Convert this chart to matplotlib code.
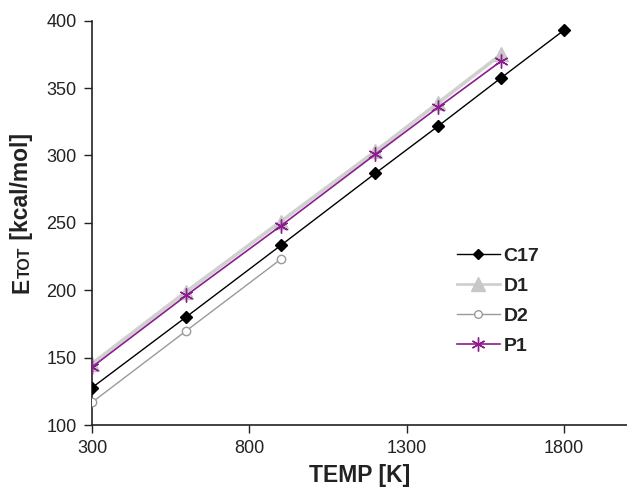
import matplotlib
matplotlib.use("Agg")
import matplotlib.pyplot as plt

plt.rcParams['font.family'] = ['Liberation Sans', 'DejaVu Sans']

temp_c17 = [300, 600, 900, 1200, 1400, 1600, 1800]
e_c17 = [127.7, 180.3, 233.3, 286.7, 321.8, 357.6, 393.0]
temp_d1 = [300, 600, 900, 1200, 1400, 1600]
e_d1 = [145.5, 199.0, 251.0, 303.0, 339.0, 375.0]
temp_d2 = [300, 600, 900]
e_d2 = [116.8, 170.0, 223.0]
temp_p1 = [300, 600, 900, 1200, 1400, 1600]
e_p1 = [143.0, 196.2, 247.8, 300.8, 335.7, 370.0]

xticks = [300, 800, 1300, 1800]
yticks = [100, 150, 200, 250, 300, 350, 400]

fig = plt.figure(figsize=(6.27, 4.88), dpi=100)
ax = fig.add_axes([92/627, 63/488, 535/627, 404.3/488])

ax.plot(temp_c17, e_c17, color='black', lw=1.0, marker='D', ms=6,
        mfc='black', mec='black', label='C17', zorder=4)
ax.plot(temp_d1, e_d1, color='#d0d0d0', lw=2.6, marker='^', ms=10,
        mfc='#c8c8c8', mec='#c8c8c8', label='D1', zorder=2)
ax.plot(temp_d2, e_d2, color='#9a9a9a', lw=1.0, marker='o', ms=6,
        mfc='white', mec='#9a9a9a', label='D2', zorder=3)
ax.plot(temp_p1, e_p1, color='#8b1c8b', lw=1.2, marker=(6, 2, 0), ms=10,
        mec='#8b1c8b', mew=1.0, label='P1', zorder=5)

ax.set_xlim(300, 2000)
ax.set_ylim(100, 400)
ax.set_xticks(xticks)
ax.set_yticks(yticks)
ax.tick_params(axis='both', direction='out', length=6, width=1.0,
               labelsize=13, colors='#222222', pad=5)
for s in ['top', 'right']:
    ax.spines[s].set_visible(False)
for s in ['left', 'bottom']:
    ax.spines[s].set_linewidth(1.2)
    ax.spines[s].set_color('#222222')
ax.spines['left'].set_bounds(100, 400)

ax.set_xlabel('TEMP [K]', fontsize=16.5, fontweight='bold', color='#222222', labelpad=5)

# y label: "E" + small "TOT" + " [kcal/mol]"
t1 = fig.text(33/627, 1 - 293/488, 'E', rotation=90, fontsize=16.5, fontweight='bold',
              color='#222222', ha='right', va='bottom')
t2 = ax.annotate('TOT', xy=(1, 1), xycoords=t1, rotation=90, fontsize=11.5,
                 fontweight='bold', color='#222222', ha='right', va='bottom',
                 annotation_clip=False)
t3 = ax.annotate(' [kcal/mol]', xy=(1, 1), xycoords=t2, rotation=90, fontsize=16.5,
                 fontweight='bold', color='#222222', ha='right', va='bottom',
                 annotation_clip=False)

leg = ax.legend(loc='upper left', bbox_to_anchor=(0.682, 0.44), frameon=False,
                fontsize=14, handlelength=2.2, handletextpad=0.2,
                labelspacing=0.64, borderaxespad=0, borderpad=0)
for t in leg.get_texts():
    t.set_fontweight('bold')
    t.set_color('#222222')
lh = leg.legend_handles
lh[0].set_markersize(5)
lh[1].set_linewidth(2.0)
lh[2].set_markersize(5.5)

fig.savefig('out.png', dpi=100)
